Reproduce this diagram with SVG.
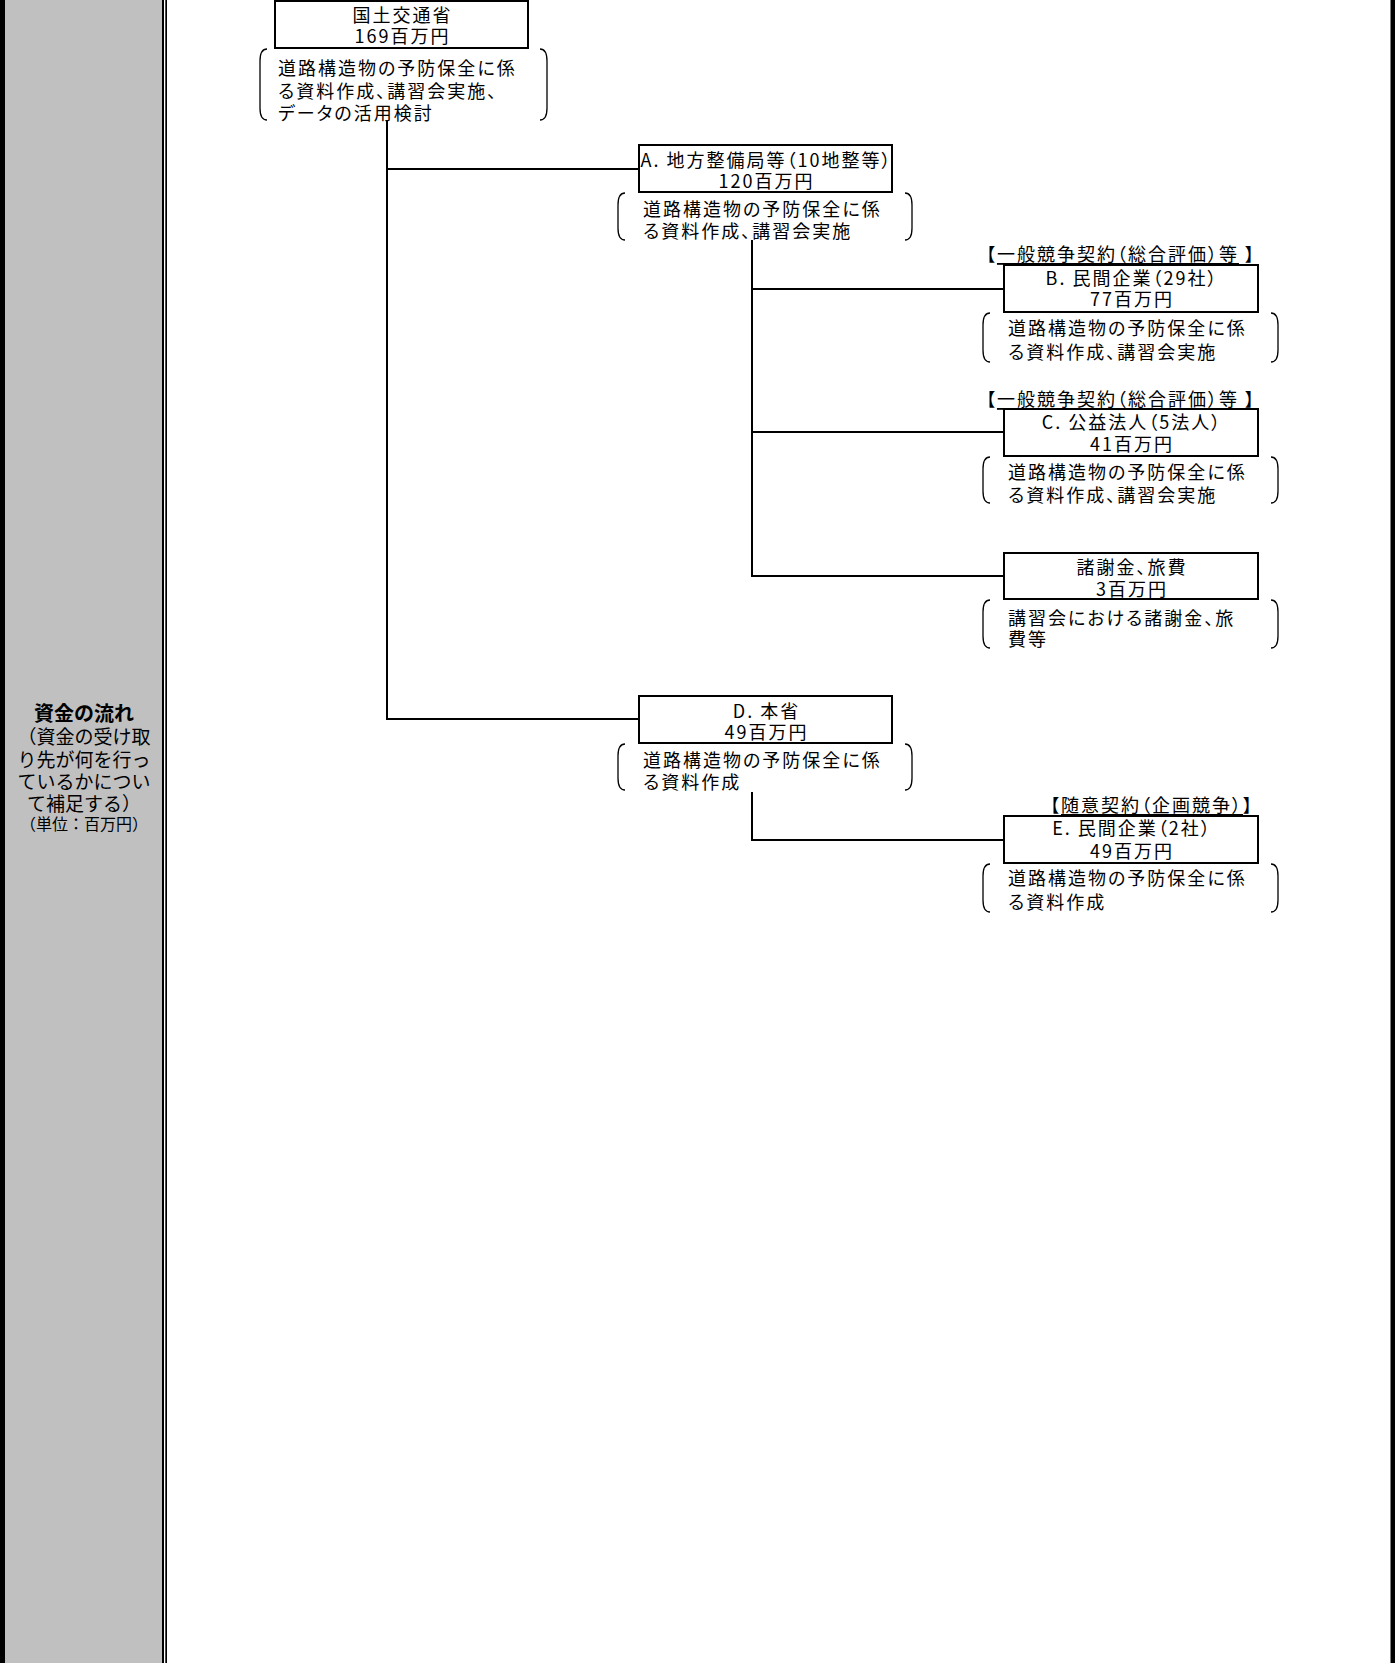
<svg xmlns="http://www.w3.org/2000/svg" width="1395" height="1663" viewBox="0 0 1395 1663">
<style>
.box{fill:#fff;stroke:#000;stroke-width:2}
.br{fill:none;stroke:#000;stroke-width:1.3}
.cn{fill:none;stroke:#000;stroke-width:2}
text{font-family:"Noto Sans CJK JP","Noto Sans CJK SC",sans-serif;font-size:18px;letter-spacing:2px;font-feature-settings:"palt";dominant-baseline:central;fill:#000}
.c{text-anchor:middle}
.e{text-anchor:end}
.side{font-feature-settings:normal;font-size:19px;letter-spacing:0}
.u{text-decoration:underline}
</style>
<rect x="0" y="0" width="1395" height="1663" fill="#fff"/>
<g id="side-column">
<rect x="0" y="0" width="163" height="1663" fill="#c0c0c0"/>
<rect x="0" y="0" width="5" height="1663" fill="#000"/>
<rect x="162" y="0" width="2" height="1663" fill="#000"/>
<rect x="165.3" y="0" width="1.7" height="1663" fill="#000"/>
<rect x="1390.5" y="0" width="4.5" height="1663" fill="#000"/>
<text class="c side" x="84" y="712" font-weight="bold" style="font-size:20px">資金の流れ</text>
<text class="c side" x="84" y="735">（資金の受け取</text>
<text class="c side" x="84" y="758">り先が何を行っ</text>
<text class="c side" x="84" y="780">ているかについ</text>
<text class="c side" x="84" y="802">て補足する）</text>
<text class="c side" x="84" y="823" style="font-size:16px">（単位：百万円）</text>
</g>
<g id="connectors">
<path class="cn" d="M387,120 V719 H639"/>
<path class="cn" d="M387,169 H639"/>
<path class="cn" d="M752,240 V576 H1004"/>
<path class="cn" d="M752,289 H1004"/>
<path class="cn" d="M752,432 H1004"/>
<path class="cn" d="M752,792 V840 H1004"/>
</g>
<g id="node-mlit">
<rect class="box" x="275" y="1" width="253" height="47"/>
<text class="c" x="402.5" y="14">国土交通省</text>
<text class="c" x="402.5" y="35">169百万円</text>
<path class="br" d="M267,49 Q260,49 260,61 V108 Q260,120 267,120"/>
<path class="br" d="M540,49 Q547,49 547,61 V108 Q547,120 540,120"/>
<text x="278" y="67">道路構造物の予防保全に係</text>
<text x="278" y="90">る資料作成、講習会実施、</text>
<text x="278" y="112">データの活用検討</text>
</g>
<g id="node-a">
<rect class="box" x="639" y="145" width="253" height="47"/>
<text class="c" x="766.5" y="159">A. 地方整備局等（10地整等）</text>
<text class="c" x="766.5" y="180">120百万円</text>
<path class="br" d="M625,193 Q618,193 618,205 V228 Q618,240 625,240"/>
<path class="br" d="M905,193 Q912,193 912,205 V228 Q912,240 905,240"/>
<text x="643" y="208">道路構造物の予防保全に係</text>
<text x="643" y="230">る資料作成、講習会実施</text>
</g>
<g id="node-b">
<text class="e" x="1256" y="253">【<tspan class="u">一般競争契約（総合評価）等</tspan> 】</text>
<rect class="box" x="1004" y="265" width="254" height="47"/>
<text class="c" x="1132" y="277">B. 民間企業（29社）</text>
<text class="c" x="1132" y="298">77百万円</text>
<path class="br" d="M990,313 Q983,313 983,325 V350 Q983,362 990,362"/>
<path class="br" d="M1271,313 Q1278,313 1278,325 V350 Q1278,362 1271,362"/>
<text x="1008" y="327">道路構造物の予防保全に係</text>
<text x="1008" y="351">る資料作成、講習会実施</text>
</g>
<g id="node-c">
<text class="e" x="1256" y="398">【<tspan class="u">一般競争契約（総合評価）等</tspan> 】</text>
<rect class="box" x="1004" y="409" width="254" height="47"/>
<text class="c" x="1132" y="421">C. 公益法人（5法人）</text>
<text class="c" x="1132" y="443">41百万円</text>
<path class="br" d="M990,457 Q983,457 983,469 V491 Q983,503 990,503"/>
<path class="br" d="M1271,457 Q1278,457 1278,469 V491 Q1278,503 1271,503"/>
<text x="1008" y="471">道路構造物の予防保全に係</text>
<text x="1008" y="494">る資料作成、講習会実施</text>
</g>
<g id="node-fees">
<rect class="box" x="1004" y="553" width="254" height="46"/>
<text class="c" x="1132" y="566">諸謝金、旅費</text>
<text class="c" x="1132" y="588">3百万円</text>
<path class="br" d="M990,600 Q983,600 983,612 V636 Q983,648 990,648"/>
<path class="br" d="M1271,600 Q1278,600 1278,612 V636 Q1278,648 1271,648"/>
<text x="1008" y="617">講習会における諸謝金、旅</text>
<text x="1008" y="638">費等</text>
</g>
<g id="node-d">
<rect class="box" x="639" y="696" width="253" height="47"/>
<text class="c" x="766.5" y="710">D. 本省</text>
<text class="c" x="766.5" y="731">49百万円</text>
<path class="br" d="M625,744 Q618,744 618,756 V778 Q618,790 625,790"/>
<path class="br" d="M905,744 Q912,744 912,756 V778 Q912,790 905,790"/>
<text x="643" y="759">道路構造物の予防保全に係</text>
<text x="643" y="781">る資料作成</text>
</g>
<g id="node-e">
<text class="e" x="1254" y="804">【<tspan class="u">随意契約（企画競争）</tspan>】</text>
<rect class="box" x="1004" y="816" width="254" height="47"/>
<text class="c" x="1132" y="827">E. 民間企業（2社）</text>
<text class="c" x="1132" y="850">49百万円</text>
<path class="br" d="M990,864 Q983,864 983,876 V900 Q983,912 990,912"/>
<path class="br" d="M1271,864 Q1278,864 1278,876 V900 Q1278,912 1271,912"/>
<text x="1008" y="877">道路構造物の予防保全に係</text>
<text x="1008" y="901">る資料作成</text>
</g>
</svg>
